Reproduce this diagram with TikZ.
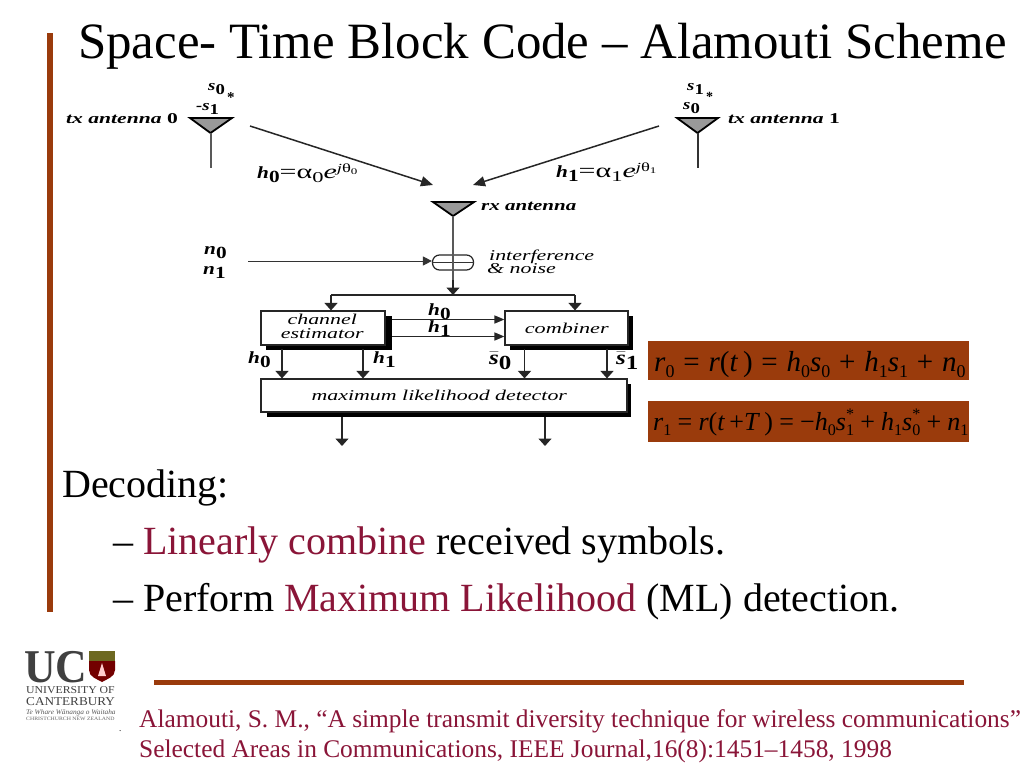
\documentclass[tikz,border=0pt]{standalone}
\usepackage{fontspec}
\setmainfont{Liberation Serif}
\usetikzlibrary{arrows.meta,shapes.geometric}
\definecolor{rust}{HTML}{9A3B0C}
\definecolor{wine}{HTML}{8A1538}
\newcommand{\fs}[1]{\fontsize{#1}{#1}\selectfont}
\newcommand{\sbx}[1]{\raisebox{-.22em}{\scalebox{.62}{#1}}}
\newcommand{\spx}[1]{\raisebox{.42em}{\scalebox{.62}{#1}}}
\newcommand{\ssb}[2]{\textit{#1}\rlap{\sbx{#2}}\spx{*}}
\newcommand{\symlab}[3]{\fs{#1}\bfseries\scalebox{1.25}[1]{\textit{#2}\raisebox{-.28em}{\upshape #3}}}
\newcommand{\wlab}[3]{\scalebox{#1}[1]{\fs{15}#2 #3}}
\newcommand{\sbar}{$\bar{\hbox{\itshape s}}$}
\newcommand{\gapa}{\hspace{8.8pt}}
\newcommand{\gapb}{\hspace{6.2pt}}
\tikzset{
  ant/.style={fill=black!40,draw=black,line width=1.8pt,line join=miter},
  wire/.style={draw=black!85,line width=1.5pt},
  stem/.style={draw=black!65,line width=2pt},
  thin wire/.style={draw=black!80,line width=1pt},
  arr/.style={wire,-{Triangle[length=7.5pt,width=13pt]}},
  diag arr/.style={wire,-{Triangle[length=12pt,width=10pt]}},
  flat arr/.style={wire,-{Triangle[length=10pt,width=8pt]}},
  blockbox/.style={draw=black!85,line width=1.2pt,fill=white,inner sep=0pt},
  lab/.style={inner sep=0pt,anchor=base west},
  eqbox/.style={fill=rust,inner sep=0pt,anchor=north west,text=black}
}
\begin{document}
\begin{tikzpicture}[x=1pt,y=-1pt]
\useasboundingbox (0,0) rectangle (1024,768);
\fill[white] (0,0) rectangle (1024,768);
% bars
\fill[rust] (47,33) rectangle (53,612);
\fill[rust] (154,680) rectangle (964,685);
% title
\node[lab] (title) at (78,59) {\fs{50.9}Space- Time Block Code -- Alamouti Scheme};
% antennas
\coordinate (t0a) at (190,118); \coordinate (t0b) at (232,118); \coordinate (t0c) at (210.5,133); \coordinate (t0d) at (210.5,168);
\filldraw[ant] (t0a) -- (t0b) -- (t0c) -- cycle;
\draw[stem] (t0c) -- (t0d);
\coordinate (t1a) at (677,118); \coordinate (t1b) at (718,118); \coordinate (t1c) at (697.5,133); \coordinate (t1d) at (697.5,168);
\filldraw[ant] (t1a) -- (t1b) -- (t1c) -- cycle;
\draw[stem,draw=black!80] (t1c) -- (t1d);
\coordinate (rxa) at (433,202); \coordinate (rxb) at (474,202); \coordinate (rxc) at (453,216);
\filldraw[ant] (rxa) -- (rxb) -- (rxc) -- cycle;
% summer
\node[draw=black!85,line width=1.2pt,rounded corners=7pt,minimum width=41pt,minimum height=15pt,inner sep=0pt] (sum) at (453,262.5) {};
\draw[thin wire] (sum.west) -- (sum.east);
\coordinate (split) at (453,295);
\draw[stem] (rxc) -- (split);
\coordinate (nstart) at (248,261);
\draw[thin wire,-{Triangle[length=9pt,width=9pt]}] (nstart) -- (nstart -| sum.west);
% channel arrows
\coordinate (h0s) at (250,126); \coordinate (h0e) at (433,185);
\coordinate (h1s) at (659,126); \coordinate (h1e) at (473,185);
\draw[diag arr] (h0s) -- (h0e);
\draw[diag arr] (h1s) -- (h1e);
% blocks
\fill[black] (266,316) rectangle (392,350);
\fill[black] (510,316) rectangle (633,350);
\fill[black] (267,384) rectangle (631,417);
\node[blockbox,minimum width=124pt,minimum height=34pt] (est) at (323,328) {};
\node[blockbox,minimum width=123pt,minimum height=34pt] (comb) at (566.5,328) {};
\node[blockbox,minimum width=366pt,minimum height=33pt] (ml) at (444,395.5) {};
\node[lab,anchor=base] (estl1) at (325,324.5) {\wlab{1.46}{\itshape channel}{}};
\node[lab,anchor=base] (estl2) at (325,338.5) {\wlab{1.46}{\itshape estimator}{}};
\node[inner sep=0pt] (combl) at (569.5,328) {\wlab{1.48}{\itshape combiner}{}};
\node[inner sep=0pt] (mll) at (442,395.5) {\wlab{1.46}{\itshape maximum likelihood detector}{}};
% top branch
\coordinate (bl) at (331,295); \coordinate (br) at (575,295);
\draw[wire] (bl) -- (br);
\draw[arr] (bl) -- (bl |- est.north);
\draw[arr] (br) -- (br |- comb.north);
\coordinate (sp) at (453,280);
\draw[arr] (sp) -- (split);
% horizontal
\coordinate (ha) at (392,319.5); \coordinate (hb) at (392,336.5);
\draw[flat arr] (ha) -- (ha -| comb.west);
\draw[flat arr] (hb) -- (hb -| comb.west);
% down arrows
\coordinate (d0) at (282,349); \coordinate (d1) at (363,349); \coordinate (d2) at (524.5,349); \coordinate (d3) at (607,349);
\foreach \c in {d0,d1,d2,d3} \draw[arr] (\c) -- (\c |- ml.north);
% outputs
\coordinate (o0) at (342,417); \coordinate (o1) at (545,417); \coordinate (o0e) at (342,446); \coordinate (o1e) at (545,446);
\draw[arr] (o0) -- (o0e);
\draw[arr] (o1) -- (o1e);
% diagram labels
\node[lab] (s0t) at (208,90) {\symlab{15}{s}{0}};
\node[lab] (st0) at (227,102) {\fs{15}\bfseries *};
\node[lab] (s1t) at (196,110) {\symlab{15}{-s}{1}};
\node[lab] (tx0) at (66,123) {\wlab{1.44}{\bfseries\itshape tx antenna}{\upshape 0}};
\node[lab] (s1r) at (687,90) {\symlab{15}{s}{1}};
\node[lab] (st1) at (706,101) {\fs{14}\bfseries *};
\node[lab] (s0r) at (683,109) {\symlab{15}{s}{0}};
\node[lab] (tx1) at (728,123) {\wlab{1.44}{\bfseries\itshape tx antenna}{\upshape 1}};
\node[lab] (rx) at (481,210) {\wlab{1.40}{\bfseries\itshape rx antenna}{}};
\node[lab] (intf) at (489,260) {\wlab{1.46}{\itshape interference}{}};
\node[lab] (noise) at (487,273) {\wlab{1.46}{\itshape \& noise}{}};
\node[lab] (n0) at (204,254) {\symlab{17}{n}{0}};
\node[lab] (n1) at (203,274) {\symlab{17}{n}{1}};
\node[lab] (h0l) at (257,178) {\symlab{17}{h}{0}\scalebox{1.5}[1]{\fs{20}\mdseries=α\raisebox{-.22em}{\scalebox{.75}{0}}\textit{e}\raisebox{.28em}{\scalebox{.62}{\textit{j}θ\raisebox{-.2em}{\scalebox{.7}{0}}}}}};
\node[lab] (h1l) at (556,177) {\symlab{17}{h}{1}\scalebox{1.5}[1]{\fs{20}\mdseries=α\raisebox{-.22em}{\scalebox{.75}{1}}\textit{e}\raisebox{.28em}{\scalebox{.62}{\textit{j}θ\raisebox{-.2em}{\scalebox{.7}{1}}}}}};
\node[lab] (hh0) at (428,315) {\symlab{17}{h}{0}};
\node[lab] (hh1) at (428,332) {\symlab{17}{h}{1}};
\node[lab] (vh0) at (248,363) {\symlab{17}{h}{0}};
\node[lab] (vh1) at (373,363) {\symlab{17}{h}{1}};
\node[lab] (vs0) at (489,364) {\symlab{20}{\sbar}{0}};
\node[lab] (vs1) at (616,364) {\symlab{20}{\sbar}{1}};
% equations
\node[eqbox,minimum width=321pt,minimum height=39pt] (eq0box) at (648,341) {};
\node[eqbox,minimum width=321pt,minimum height=41pt] (eq1box) at (648,401) {};
\node[lab] (eq0) at (654,371) {\fs{29}\textit{r}\sbx{0}\gapa=\gapa\textit{r}(\textit{t}\,)\gapa=\gapa\textit{h}\sbx{0}\textit{s}\sbx{0}\gapa+\gapa\textit{h}\sbx{1}\textit{s}\sbx{1}\gapa+\gapa\textit{n}\sbx{0}};
\node[lab] (eq1) at (653,430) {\fs{26}\textit{r}\sbx{1}\gapb=\gapb\textit{r}(\textit{t}\,+\textit{T}\,)\gapb=\gapb−\textit{h}\sbx{0}\ssb{s}{1}\gapb+\gapb\textit{h}\sbx{1}\ssb{s}{0}\gapb+\gapb\textit{n}\sbx{1}};
% body
\node[lab] (dec) at (62,497) {\fs{40}Decoding:};
\node[lab] (it1) at (113,554) {\fs{40}-- \textcolor{wine}{Linearly combine} received symbols.};
\node[lab] (it2) at (113,611) {\fs{40}-- Perform \textcolor{wine}{Maximum Likelihood} (ML) detection.};
% citation
\node[lab] (c1) at (139,727) {\fs{25.4}\textcolor{wine}{Alamouti, S. M., “A simple transmit diversity technique for wireless communications”}};
\node[lab] (c2) at (139,757) {\fs{25.4}\textcolor{wine}{Selected Areas in Communications, IEEE Journal,16(8):1451–1458, 1998}};
\node[lab] (dot) at (119,731) {\fs{9}.};
% logo
\node[lab] (uc) at (24,682) {\fs{47}\bfseries\textcolor{black!75}{\scalebox{.93}[1]{UC}}};
\fill[olive!70!black] (89,651) rectangle (115,661);
\fill[red!45!black] (89,661) -- (115,661) -- (115,670) .. controls (115,677) and (107,679) .. (102,682) .. controls (97,679) and (89,677) .. (89,670) -- cycle;
\fill[white!80!red] (102,663) -- (106,676) -- (98,676) -- cycle;
\node[lab] (un) at (26,693.5) {\fs{10.5}\textcolor{black!75}{\scalebox{1.12}[1]{UNIVERSITY OF}}};
\node[lab] (ca) at (26,705.5) {\fs{12}\textcolor{black!75}{\scalebox{1.1}[1]{CANTERBURY}}};
\node[lab] (mo) at (26,714) {\fs{7}\itshape\textcolor{black!65}{\scalebox{1.05}[1]{Te Whare Wānanga o Waitaha}}};
\node[lab] (ch) at (26,720) {\fs{5}\textcolor{black!60}{\scalebox{1.16}[1]{CHRISTCHURCH NEW ZEALAND}}};
\end{tikzpicture}
\end{document}
